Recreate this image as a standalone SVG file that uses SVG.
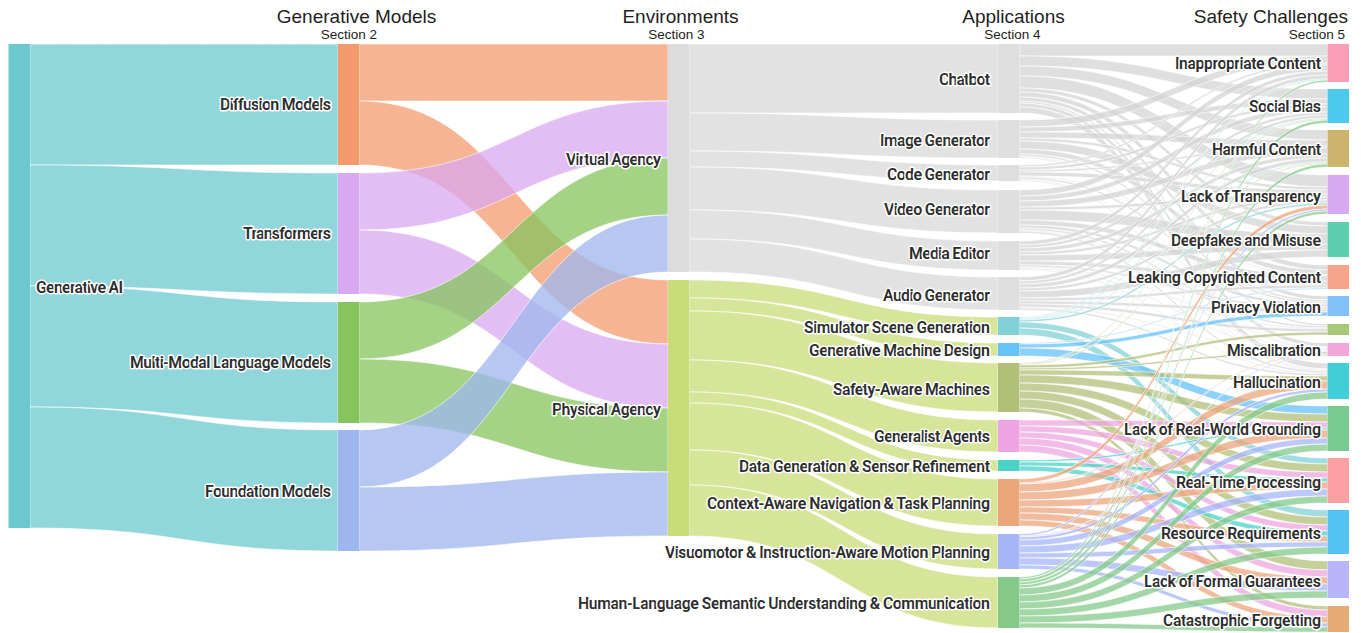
<svg xmlns="http://www.w3.org/2000/svg" width="1361" height="633" viewBox="0 0 1361 633">
<style>
.l{stroke:#fff;stroke-width:0.6;fill-opacity:0.75}
.c0{fill:#6bc8ce}.cd{fill:#f49b6e}.ct{fill:#d8a8f0}.cm{fill:#86c45e}.cf{fill:#9db6ee}
.cv{fill:#d8d8d8}.cp{fill:#c8dc78}.cg{fill:#d4d4d4}
.cs{fill:#80d0d6}.cgm{fill:#66c2f8}.csa{fill:#b2bf78}.cga{fill:#eca5e0}.cdg{fill:#4ad1c8}.cca{fill:#eca67c}.cvi{fill:#a6b4f8}.chl{fill:#84c98a}
.t{font-family:Roboto,"Liberation Sans",sans-serif;font-size:16px;font-weight:600;fill:#2d2d2d;stroke:#fff;stroke-width:3;stroke-linejoin:round;paint-order:stroke;text-anchor:end}
.h{font-family:"Liberation Sans",Arial,sans-serif;fill:#1e1e1e;text-anchor:middle}
.h1{font-size:19px}.h2{font-size:13.5px}
</style>
<g id="connectors">
<g class="l c0">
<path d="M30 44C184 44 184 44 338 44L338 165C184 165 184 165 30 165Z"/>
<path d="M30 165C184 165 184 173 338 173L338 294C184 294 184 286 30 286Z"/>
<path d="M30 286C184 286 184 302 338 302L338 423C184 423 184 407 30 407Z"/>
<path d="M30 407C184 407 184 430 338 430L338 551C184 551 184 528 30 528Z"/>
</g>
<path class="l cd" d="M359.5 44C514 44 514 44 668 44L668 101C514 101 514 101 359.5 101Z"/>
<path class="l cd" d="M359.5 101C514 101 514 280 668 280L668 344C514 344 514 165 359.5 165Z"/>
<path class="l ct" d="M359.5 173C514 173 514 101 668 101L668 158C514 158 514 230 359.5 230Z"/>
<path class="l ct" d="M359.5 230C514 230 514 344 668 344L668 408C514 408 514 294 359.5 294Z"/>
<path class="l cm" d="M359.5 302C514 302 514 158 668 158L668 215C514 215 514 359 359.5 359Z"/>
<path class="l cm" d="M359.5 359C514 359 514 408 668 408L668 472C514 472 514 423 359.5 423Z"/>
<path class="l cf" d="M359.5 430C514 430 514 215 668 215L668 272C514 272 514 487 359.5 487Z"/>
<path class="l cf" d="M359.5 487C514 487 514 472 668 472L668 536C514 536 514 551 359.5 551Z"/>
<g class="l cv">
<path d="M689.5 44C844 44 844 44 998 44L998 113C844 113 844 113 689.5 113Z"/>
<path d="M689.5 113C844 113 844 120 998 120L998 158C844 158 844 151 689.5 151Z"/>
<path d="M689.5 151C844 151 844 165 998 165L998 181C844 181 844 167 689.5 167Z"/>
<path d="M689.5 167C844 167 844 190 998 190L998 233C844 233 844 210 689.5 210Z"/>
<path d="M689.5 210C844 210 844 241 998 241L998 270C844 270 844 239 689.5 239Z"/>
<path d="M689.5 239C844 239 844 277 998 277L998 310C844 310 844 272 689.5 272Z"/>
</g>
<g class="l cp">
<path d="M689.5 280C844 280 844 317 998 317L998 335C844 335 844 298 689.5 298Z"/>
<path d="M689.5 298C844 298 844 343 998 343L998 356C844 356 844 311 689.5 311Z"/>
<path d="M689.5 311C844 311 844 363 998 363L998 412C844 412 844 360 689.5 360Z"/>
<path d="M689.5 360C844 360 844 420 998 420L998 452C844 452 844 392 689.5 392Z"/>
<path d="M689.5 392C844 392 844 460 998 460L998 471C844 471 844 403 689.5 403Z"/>
<path d="M689.5 403C844 403 844 479 998 479L998 526C844 526 844 450 689.5 450Z"/>
<path d="M689.5 450C844 450 844 534 998 534L998 569C844 569 844 485 689.5 485Z"/>
<path d="M689.5 485C844 485 844 577 998 577L998 628C844 628 844 536 689.5 536Z"/>
</g>
<g class="l cg">
<path d="M1019.5 44C1173.5 44 1173.5 44 1327.5 44L1327.5 56C1173.5 56 1173.5 56 1019.5 56Z"/>
<path d="M1019.5 56C1173.5 56 1173.5 89 1327.5 89L1327.5 99C1173.5 99 1173.5 66 1019.5 66Z"/>
<path d="M1019.5 66C1173.5 66 1173.5 130 1327.5 130L1327.5 140C1173.5 140 1173.5 76 1019.5 76Z"/>
<path d="M1019.5 76C1173.5 76 1173.5 175 1327.5 175L1327.5 187C1173.5 187 1173.5 88 1019.5 88Z"/>
<path d="M1019.5 88C1173.5 88 1173.5 222 1327.5 222L1327.5 226C1173.5 226 1173.5 92 1019.5 92Z"/>
<path d="M1019.5 92C1173.5 92 1173.5 265 1327.5 265L1327.5 270C1173.5 270 1173.5 97 1019.5 97Z"/>
<path d="M1019.5 97C1173.5 97 1173.5 296 1327.5 296L1327.5 300C1173.5 300 1173.5 101 1019.5 101Z"/>
<path d="M1019.5 101C1173.5 101 1173.5 324 1327.5 324L1327.5 326C1173.5 326 1173.5 103 1019.5 103Z"/>
<path d="M1019.5 103C1173.5 103 1173.5 343 1327.5 343L1327.5 347C1173.5 347 1173.5 107 1019.5 107Z"/>
<path d="M1019.5 107C1173.5 107 1173.5 363 1327.5 363L1327.5 369C1173.5 369 1173.5 113 1019.5 113Z"/>
<path d="M1019.5 120C1173.5 120 1173.5 56 1327.5 56L1327.5 63C1173.5 63 1173.5 127 1019.5 127Z"/>
<path d="M1019.5 127C1173.5 127 1173.5 99 1327.5 99L1327.5 104C1173.5 104 1173.5 132 1019.5 132Z"/>
<path d="M1019.5 132C1173.5 132 1173.5 140 1327.5 140L1327.5 146C1173.5 146 1173.5 138 1019.5 138Z"/>
<path d="M1019.5 138C1173.5 138 1173.5 187 1327.5 187L1327.5 190C1173.5 190 1173.5 141 1019.5 141Z"/>
<path d="M1019.5 141C1173.5 141 1173.5 226 1327.5 226L1327.5 234C1173.5 234 1173.5 149 1019.5 149Z"/>
<path d="M1019.5 149C1173.5 149 1173.5 270 1327.5 270L1327.5 275C1173.5 275 1173.5 154 1019.5 154Z"/>
<path d="M1019.5 154C1173.5 154 1173.5 300 1327.5 300L1327.5 302C1173.5 302 1173.5 156 1019.5 156Z"/>
<path d="M1019.5 156C1173.5 156 1173.5 347 1327.5 347L1327.5 348C1173.5 348 1173.5 157 1019.5 157Z"/>
<path d="M1019.5 157C1173.5 157 1173.5 369 1327.5 369L1327.5 370C1173.5 370 1173.5 158 1019.5 158Z"/>
<path d="M1019.5 165C1173.5 165 1173.5 63 1327.5 63L1327.5 65C1173.5 65 1173.5 167 1019.5 167Z"/>
<path d="M1019.5 167C1173.5 167 1173.5 104 1327.5 104L1327.5 107C1173.5 107 1173.5 170 1019.5 170Z"/>
<path d="M1019.5 170C1173.5 170 1173.5 146 1327.5 146L1327.5 148C1173.5 148 1173.5 172 1019.5 172Z"/>
<path d="M1019.5 172C1173.5 172 1173.5 190 1327.5 190L1327.5 194C1173.5 194 1173.5 176 1019.5 176Z"/>
<path d="M1019.5 176C1173.5 176 1173.5 275 1327.5 275L1327.5 276C1173.5 276 1173.5 177 1019.5 177Z"/>
<path d="M1019.5 177C1173.5 177 1173.5 302 1327.5 302L1327.5 304C1173.5 304 1173.5 179 1019.5 179Z"/>
<path d="M1019.5 179C1173.5 179 1173.5 348 1327.5 348L1327.5 349C1173.5 349 1173.5 180 1019.5 180Z"/>
<path d="M1019.5 180C1173.5 180 1173.5 370 1327.5 370L1327.5 371C1173.5 371 1173.5 181 1019.5 181Z"/>
<path d="M1019.5 190C1173.5 190 1173.5 65 1327.5 65L1327.5 71C1173.5 71 1173.5 196 1019.5 196Z"/>
<path d="M1019.5 196C1173.5 196 1173.5 107 1327.5 107L1327.5 112C1173.5 112 1173.5 201 1019.5 201Z"/>
<path d="M1019.5 201C1173.5 201 1173.5 148 1327.5 148L1327.5 154C1173.5 154 1173.5 207 1019.5 207Z"/>
<path d="M1019.5 207C1173.5 207 1173.5 194 1327.5 194L1327.5 197C1173.5 197 1173.5 210 1019.5 210Z"/>
<path d="M1019.5 210C1173.5 210 1173.5 234 1327.5 234L1327.5 244C1173.5 244 1173.5 220 1019.5 220Z"/>
<path d="M1019.5 220C1173.5 220 1173.5 276 1327.5 276L1327.5 281C1173.5 281 1173.5 225 1019.5 225Z"/>
<path d="M1019.5 225C1173.5 225 1173.5 304 1327.5 304L1327.5 307C1173.5 307 1173.5 228 1019.5 228Z"/>
<path d="M1019.5 228C1173.5 228 1173.5 326 1327.5 326L1327.5 328C1173.5 328 1173.5 230 1019.5 230Z"/>
<path d="M1019.5 230C1173.5 230 1173.5 349 1327.5 349L1327.5 350C1173.5 350 1173.5 231 1019.5 231Z"/>
<path d="M1019.5 231C1173.5 231 1173.5 371 1327.5 371L1327.5 373C1173.5 373 1173.5 233 1019.5 233Z"/>
<path d="M1019.5 241C1173.5 241 1173.5 71 1327.5 71L1327.5 75C1173.5 75 1173.5 245 1019.5 245Z"/>
<path d="M1019.5 245C1173.5 245 1173.5 112 1327.5 112L1327.5 115C1173.5 115 1173.5 248 1019.5 248Z"/>
<path d="M1019.5 248C1173.5 248 1173.5 154 1327.5 154L1327.5 158C1173.5 158 1173.5 252 1019.5 252Z"/>
<path d="M1019.5 252C1173.5 252 1173.5 197 1327.5 197L1327.5 200C1173.5 200 1173.5 255 1019.5 255Z"/>
<path d="M1019.5 255C1173.5 255 1173.5 244 1327.5 244L1327.5 250C1173.5 250 1173.5 261 1019.5 261Z"/>
<path d="M1019.5 261C1173.5 261 1173.5 281 1327.5 281L1327.5 285C1173.5 285 1173.5 265 1019.5 265Z"/>
<path d="M1019.5 265C1173.5 265 1173.5 307 1327.5 307L1327.5 309C1173.5 309 1173.5 267 1019.5 267Z"/>
<path d="M1019.5 267C1173.5 267 1173.5 328 1327.5 328L1327.5 329C1173.5 329 1173.5 268 1019.5 268Z"/>
<path d="M1019.5 268C1173.5 268 1173.5 350 1327.5 350L1327.5 351C1173.5 351 1173.5 269 1019.5 269Z"/>
<path d="M1019.5 269C1173.5 269 1173.5 373 1327.5 373L1327.5 374C1173.5 374 1173.5 270 1019.5 270Z"/>
<path d="M1019.5 277C1173.5 277 1173.5 75 1327.5 75L1327.5 79C1173.5 79 1173.5 281 1019.5 281Z"/>
<path d="M1019.5 281C1173.5 281 1173.5 115 1327.5 115L1327.5 118C1173.5 118 1173.5 284 1019.5 284Z"/>
<path d="M1019.5 284C1173.5 284 1173.5 158 1327.5 158L1327.5 162C1173.5 162 1173.5 288 1019.5 288Z"/>
<path d="M1019.5 288C1173.5 288 1173.5 200 1327.5 200L1327.5 203C1173.5 203 1173.5 291 1019.5 291Z"/>
<path d="M1019.5 291C1173.5 291 1173.5 250 1327.5 250L1327.5 257C1173.5 257 1173.5 298 1019.5 298Z"/>
<path d="M1019.5 298C1173.5 298 1173.5 285 1327.5 285L1327.5 288C1173.5 288 1173.5 301 1019.5 301Z"/>
<path d="M1019.5 301C1173.5 301 1173.5 309 1327.5 309L1327.5 312C1173.5 312 1173.5 304 1019.5 304Z"/>
<path d="M1019.5 304C1173.5 304 1173.5 329 1327.5 329L1327.5 332C1173.5 332 1173.5 307 1019.5 307Z"/>
<path d="M1019.5 307C1173.5 307 1173.5 351 1327.5 351L1327.5 352C1173.5 352 1173.5 308 1019.5 308Z"/>
<path d="M1019.5 308C1173.5 308 1173.5 374 1327.5 374L1327.5 376C1173.5 376 1173.5 310 1019.5 310Z"/>
</g>
<g class="l cs">
<path d="M1019.5 317C1173.5 317 1173.5 79 1327.5 79L1327.5 80C1173.5 80 1173.5 318 1019.5 318Z"/>
<path d="M1019.5 318C1173.5 318 1173.5 118 1327.5 118L1327.5 119C1173.5 119 1173.5 319 1019.5 319Z"/>
<path d="M1019.5 319C1173.5 319 1173.5 162 1327.5 162L1327.5 163C1173.5 163 1173.5 320 1019.5 320Z"/>
<path d="M1019.5 320C1173.5 320 1173.5 203 1327.5 203L1327.5 205C1173.5 205 1173.5 322 1019.5 322Z"/>
<path d="M1019.5 322C1173.5 322 1173.5 458 1327.5 458L1327.5 464C1173.5 464 1173.5 328 1019.5 328Z"/>
<path d="M1019.5 328C1173.5 328 1173.5 510 1327.5 510L1327.5 517C1173.5 517 1173.5 335 1019.5 335Z"/>
</g>
<g class="l cgm">
<path d="M1019.5 343C1173.5 343 1173.5 288 1327.5 288L1327.5 289C1173.5 289 1173.5 344 1019.5 344Z"/>
<path d="M1019.5 344C1173.5 344 1173.5 312 1327.5 312L1327.5 316C1173.5 316 1173.5 348 1019.5 348Z"/>
<path d="M1019.5 348C1173.5 348 1173.5 406 1327.5 406L1327.5 414C1173.5 414 1173.5 356 1019.5 356Z"/>
</g>
<g class="l csa">
<path d="M1019.5 363C1173.5 363 1173.5 119 1327.5 119L1327.5 120C1173.5 120 1173.5 364 1019.5 364Z"/>
<path d="M1019.5 364C1173.5 364 1173.5 163 1327.5 163L1327.5 164C1173.5 164 1173.5 365 1019.5 365Z"/>
<path d="M1019.5 365C1173.5 365 1173.5 332 1327.5 332L1327.5 335C1173.5 335 1173.5 368 1019.5 368Z"/>
<path d="M1019.5 368C1173.5 368 1173.5 352 1327.5 352L1327.5 354C1173.5 354 1173.5 370 1019.5 370Z"/>
<path d="M1019.5 370C1173.5 370 1173.5 376 1327.5 376L1327.5 381C1173.5 381 1173.5 375 1019.5 375Z"/>
<path d="M1019.5 375C1173.5 375 1173.5 414 1327.5 414L1327.5 422C1173.5 422 1173.5 383 1019.5 383Z"/>
<path d="M1019.5 383C1173.5 383 1173.5 464 1327.5 464L1327.5 472C1173.5 472 1173.5 391 1019.5 391Z"/>
<path d="M1019.5 391C1173.5 391 1173.5 517 1327.5 517L1327.5 525C1173.5 525 1173.5 399 1019.5 399Z"/>
<path d="M1019.5 399C1173.5 399 1173.5 561 1327.5 561L1327.5 570C1173.5 570 1173.5 408 1019.5 408Z"/>
<path d="M1019.5 408C1173.5 408 1173.5 606 1327.5 606L1327.5 610C1173.5 610 1173.5 412 1019.5 412Z"/>
</g>
<g class="l cga">
<path d="M1019.5 420C1173.5 420 1173.5 422 1327.5 422L1327.5 428C1173.5 428 1173.5 426 1019.5 426Z"/>
<path d="M1019.5 426C1173.5 426 1173.5 472 1327.5 472L1327.5 478C1173.5 478 1173.5 432 1019.5 432Z"/>
<path d="M1019.5 432C1173.5 432 1173.5 525 1327.5 525L1327.5 531C1173.5 531 1173.5 438 1019.5 438Z"/>
<path d="M1019.5 438C1173.5 438 1173.5 570 1327.5 570L1327.5 577C1173.5 577 1173.5 445 1019.5 445Z"/>
<path d="M1019.5 445C1173.5 445 1173.5 610 1327.5 610L1327.5 617C1173.5 617 1173.5 452 1019.5 452Z"/>
</g>
<g class="l cdg">
<path d="M1019.5 460C1173.5 460 1173.5 428 1327.5 428L1327.5 430C1173.5 430 1173.5 462 1019.5 462Z"/>
<path d="M1019.5 462C1173.5 462 1173.5 478 1327.5 478L1327.5 482C1173.5 482 1173.5 466 1019.5 466Z"/>
<path d="M1019.5 466C1173.5 466 1173.5 531 1327.5 531L1327.5 536C1173.5 536 1173.5 471 1019.5 471Z"/>
</g>
<g class="l cca">
<path d="M1019.5 479C1173.5 479 1173.5 205 1327.5 205L1327.5 209C1173.5 209 1173.5 483 1019.5 483Z"/>
<path d="M1019.5 483C1173.5 483 1173.5 354 1327.5 354L1327.5 355C1173.5 355 1173.5 484 1019.5 484Z"/>
<path d="M1019.5 484C1173.5 484 1173.5 381 1327.5 381L1327.5 389C1173.5 389 1173.5 492 1019.5 492Z"/>
<path d="M1019.5 492C1173.5 492 1173.5 430 1327.5 430L1327.5 438C1173.5 438 1173.5 500 1019.5 500Z"/>
<path d="M1019.5 500C1173.5 500 1173.5 482 1327.5 482L1327.5 489C1173.5 489 1173.5 507 1019.5 507Z"/>
<path d="M1019.5 507C1173.5 507 1173.5 536 1327.5 536L1327.5 542C1173.5 542 1173.5 513 1019.5 513Z"/>
<path d="M1019.5 513C1173.5 513 1173.5 577 1327.5 577L1327.5 584C1173.5 584 1173.5 520 1019.5 520Z"/>
<path d="M1019.5 520C1173.5 520 1173.5 617 1327.5 617L1327.5 623C1173.5 623 1173.5 526 1019.5 526Z"/>
</g>
<g class="l cvi">
<path d="M1019.5 534C1173.5 534 1173.5 209 1327.5 209L1327.5 211C1173.5 211 1173.5 536 1019.5 536Z"/>
<path d="M1019.5 536C1173.5 536 1173.5 355 1327.5 355L1327.5 356C1173.5 356 1173.5 537 1019.5 537Z"/>
<path d="M1019.5 537C1173.5 537 1173.5 389 1327.5 389L1327.5 392C1173.5 392 1173.5 540 1019.5 540Z"/>
<path d="M1019.5 540C1173.5 540 1173.5 438 1327.5 438L1327.5 444C1173.5 444 1173.5 546 1019.5 546Z"/>
<path d="M1019.5 546C1173.5 546 1173.5 489 1327.5 489L1327.5 496C1173.5 496 1173.5 553 1019.5 553Z"/>
<path d="M1019.5 553C1173.5 553 1173.5 542 1327.5 542L1327.5 547C1173.5 547 1173.5 558 1019.5 558Z"/>
<path d="M1019.5 558C1173.5 558 1173.5 584 1327.5 584L1327.5 591C1173.5 591 1173.5 565 1019.5 565Z"/>
<path d="M1019.5 565C1173.5 565 1173.5 623 1327.5 623L1327.5 627C1173.5 627 1173.5 569 1019.5 569Z"/>
</g>
<g class="l chl">
<path d="M1019.5 577C1173.5 577 1173.5 80 1327.5 80L1327.5 82C1173.5 82 1173.5 579 1019.5 579Z"/>
<path d="M1019.5 579C1173.5 579 1173.5 120 1327.5 120L1327.5 123C1173.5 123 1173.5 582 1019.5 582Z"/>
<path d="M1019.5 582C1173.5 582 1173.5 164 1327.5 164L1327.5 167C1173.5 167 1173.5 585 1019.5 585Z"/>
<path d="M1019.5 585C1173.5 585 1173.5 211 1327.5 211L1327.5 214C1173.5 214 1173.5 588 1019.5 588Z"/>
<path d="M1019.5 588C1173.5 588 1173.5 392 1327.5 392L1327.5 399C1173.5 399 1173.5 595 1019.5 595Z"/>
<path d="M1019.5 595C1173.5 595 1173.5 444 1327.5 444L1327.5 451C1173.5 451 1173.5 602 1019.5 602Z"/>
<path d="M1019.5 602C1173.5 602 1173.5 496 1327.5 496L1327.5 503C1173.5 503 1173.5 609 1019.5 609Z"/>
<path d="M1019.5 609C1173.5 609 1173.5 547 1327.5 547L1327.5 554C1173.5 554 1173.5 616 1019.5 616Z"/>
<path d="M1019.5 616C1173.5 616 1173.5 591 1327.5 591L1327.5 598C1173.5 598 1173.5 623 1019.5 623Z"/>
<path d="M1019.5 623C1173.5 623 1173.5 627 1327.5 627L1327.5 632C1173.5 632 1173.5 628 1019.5 628Z"/>
</g>
</g>
<g id="nodes">
<g id="n-generative-ai"><rect x="8.5" y="44" width="21.5" height="484" fill="#6bc8ce"/><text class="t" x="36" y="292.5" style="text-anchor:start" textLength="87">Generative AI</text></g>
<g id="n-diffusion"><rect x="338" y="44" width="21.5" height="121" fill="#f49b6e"/><text class="t" x="331" y="109.5" textLength="111">Diffusion Models</text></g>
<g id="n-transformers"><rect x="338" y="173" width="21.5" height="121" fill="#d8a8f0"/><text class="t" x="331" y="238.5" textLength="88">Transformers</text></g>
<g id="n-mmlm"><rect x="338" y="302" width="21.5" height="121" fill="#86c45e"/><text class="t" x="331" y="367.5" textLength="201">Multi-Modal Language Models</text></g>
<g id="n-foundation"><rect x="338" y="430" width="21.5" height="121" fill="#9db6ee"/><text class="t" x="331" y="496.5" textLength="126">Foundation Models</text></g>
<g id="n-virtual"><rect x="668" y="44" width="21.5" height="228" fill="#dcdcdc"/><text class="t" x="661" y="164.5" textLength="95">Virtual Agency</text></g>
<g id="n-physical"><rect x="668" y="280" width="21.5" height="256" fill="#c8dc78"/><text class="t" x="661" y="414.5" textLength="109">Physical Agency</text></g>
<g id="n-chatbot"><rect x="998" y="44" width="21.5" height="69" fill="#dedede"/><text class="t" x="990" y="84.5" textLength="51">Chatbot</text></g>
<g id="n-image"><rect x="998" y="120" width="21.5" height="38" fill="#dedede"/><text class="t" x="990" y="145.5" textLength="110">Image Generator</text></g>
<g id="n-code"><rect x="998" y="165" width="21.5" height="16" fill="#dedede"/><text class="t" x="990" y="179.5" textLength="103">Code Generator</text></g>
<g id="n-video"><rect x="998" y="190" width="21.5" height="43" fill="#dedede"/><text class="t" x="990" y="214.5" textLength="106">Video Generator</text></g>
<g id="n-media"><rect x="998" y="241" width="21.5" height="29" fill="#dedede"/><text class="t" x="990" y="258.5" textLength="81">Media Editor</text></g>
<g id="n-audio"><rect x="998" y="277" width="21.5" height="33" fill="#dedede"/><text class="t" x="990" y="300.5" textLength="107">Audio Generator</text></g>
<g id="n-sim"><rect x="998" y="317" width="21.5" height="18" fill="#80d0d6"/><text class="t" x="990" y="332.5" textLength="186">Simulator Scene Generation</text></g>
<g id="n-gmd"><rect x="998" y="343" width="21.5" height="13" fill="#66c2f8"/><text class="t" x="990" y="355.5" textLength="181">Generative Machine Design</text></g>
<g id="n-sam"><rect x="998" y="363" width="21.5" height="49" fill="#b2bf78"/><text class="t" x="990" y="394.5" textLength="157">Safety-Aware Machines</text></g>
<g id="n-ga"><rect x="998" y="420" width="21.5" height="32" fill="#eca5e0"/><text class="t" x="990" y="441.5" textLength="116">Generalist Agents</text></g>
<g id="n-dg"><rect x="998" y="460" width="21.5" height="11" fill="#4ad1c8"/><text class="t" x="990" y="471.5" textLength="251">Data Generation &amp; Sensor Refinement</text></g>
<g id="n-can"><rect x="998" y="479" width="21.5" height="47" fill="#eca67c"/><text class="t" x="990" y="508.5" textLength="283">Context-Aware Navigation &amp; Task Planning</text></g>
<g id="n-vis"><rect x="998" y="534" width="21.5" height="35" fill="#a6b4f8"/><text class="t" x="990" y="557.5" textLength="325">Visuomotor &amp; Instruction-Aware Motion Planning</text></g>
<g id="n-hl"><rect x="998" y="577" width="21.5" height="51" fill="#84c98a"/><text class="t" x="990" y="608.5" textLength="412">Human-Language Semantic Understanding &amp; Communication</text></g>
<g id="n-ic"><rect x="1327.5" y="44" width="21.5" height="38" fill="#fc9fb6"/><text class="t" x="1321" y="68.5" textLength="146">Inappropriate Content</text></g>
<g id="n-sb"><rect x="1327.5" y="89" width="21.5" height="34" fill="#4ec9ee"/><text class="t" x="1321" y="111.5" textLength="72">Social Bias</text></g>
<g id="n-hc"><rect x="1327.5" y="130" width="21.5" height="37" fill="#ccb46c"/><text class="t" x="1321" y="154.5" textLength="109">Harmful Content</text></g>
<g id="n-lt"><rect x="1327.5" y="175" width="21.5" height="39" fill="#d6a9f2"/><text class="t" x="1321" y="201.5" textLength="140">Lack of Transparency</text></g>
<g id="n-dm"><rect x="1327.5" y="222" width="21.5" height="35" fill="#5ccfb0"/><text class="t" x="1321" y="245.5" textLength="150">Deepfakes and Misuse</text></g>
<g id="n-lc"><rect x="1327.5" y="265" width="21.5" height="24" fill="#f8a38c"/><text class="t" x="1321" y="282.5" textLength="193">Leaking Copyrighted Content</text></g>
<g id="n-pv"><rect x="1327.5" y="296" width="21.5" height="20" fill="#82c1fa"/><text class="t" x="1321" y="312.5" textLength="110">Privacy Violation</text></g>
<g id="n-ol"><rect x="1327.5" y="324" width="21.5" height="11" fill="#a6c878"/></g>
<g id="n-mc"><rect x="1327.5" y="343" width="21.5" height="13" fill="#f2a6da"/><text class="t" x="1321" y="355.5" textLength="94">Miscalibration</text></g>
<g id="n-ha"><rect x="1327.5" y="363" width="21.5" height="36" fill="#42ced8"/><text class="t" x="1321" y="387.5" textLength="88">Hallucination</text></g>
<g id="n-rg"><rect x="1327.5" y="406" width="21.5" height="45" fill="#78cb90"/><text class="t" x="1321" y="434.5" textLength="197">Lack of Real-World Grounding</text></g>
<g id="n-rt"><rect x="1327.5" y="458" width="21.5" height="45" fill="#fca0a4"/><text class="t" x="1321" y="487.5" textLength="145">Real-Time Processing</text></g>
<g id="n-rr"><rect x="1327.5" y="510" width="21.5" height="44" fill="#52c3f2"/><text class="t" x="1321" y="538.5" textLength="160">Resource Requirements</text></g>
<g id="n-fg"><rect x="1327.5" y="561" width="21.5" height="37" fill="#b8b5fa"/><text class="t" x="1321" y="586.5" textLength="177">Lack of Formal Guarantees</text></g>
<g id="n-cf"><rect x="1327.5" y="606" width="21.5" height="26" fill="#e4ab72"/><text class="t" x="1321" y="625.5" textLength="158">Catastrophic Forgetting</text></g>
</g>
<g id="headers">
<text class="h h1" x="356.5" y="22.5">Generative Models</text>
<text class="h h2" x="349" y="39">Section 2</text>
<text class="h h1" x="680.5" y="22.5">Environments</text>
<text class="h h2" x="676.5" y="39">Section 3</text>
<text class="h h1" x="1013.5" y="22.5">Applications</text>
<text class="h h2" x="1012.5" y="39">Section 4</text>
<text class="h h1" x="1348" y="22.5" style="text-anchor:end">Safety Challenges</text>
<text class="h h2" x="1345" y="39" style="text-anchor:end">Section 5</text>
</g>
</svg>
